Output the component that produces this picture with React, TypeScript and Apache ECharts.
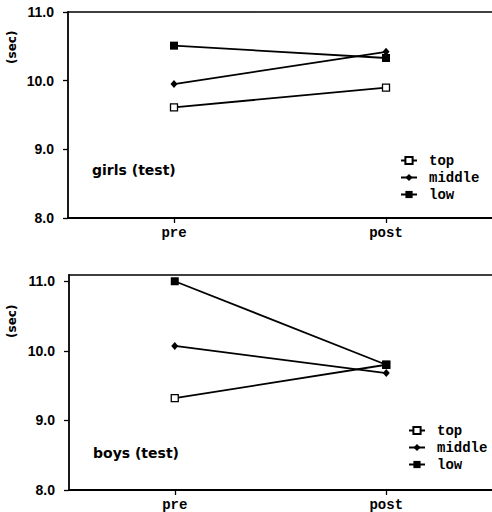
import React, { useEffect, useRef } from "react";
import * as echarts from "echarts";

const categories = ["pre", "post"];
const groups = ["top", "middle", "low"];
const girlsTop = [9.61, 9.9];
const girlsMiddle = [9.95, 10.42];
const girlsLow = [10.51, 10.33];
const boysTop = [9.32, 9.8];
const boysMiddle = [10.07, 9.68];
const boysLow = [11.0, 9.8];
const yTicks = [8, 9, 10, 11];
const panelTitles = ["girls (test)", "boys (test)"];
const yName = "(sec)";

const symbolFor: Record<string, any> = {
  top: { symbol: "rect", symbolSize: 7, itemStyle: { color: "#fff", borderColor: "#000", borderWidth: 1.3 } },
  middle: { symbol: "diamond", symbolSize: [7, 8], itemStyle: { color: "#000" } },
  low: { symbol: "rect", symbolSize: 8, itemStyle: { color: "#000" } },
};

export default function App() {
  const ref = useRef<HTMLDivElement>(null);
  useEffect(() => {
    document.body.style.margin = "0";
    const chart = echarts.init(ref.current!, null, { renderer: "svg" });
    const mkSeries = (name: string, data: number[], idx: number) => ({
      type: "line",
      name,
      data,
      xAxisIndex: idx,
      yAxisIndex: idx,
      lineStyle: { color: "#000", width: 1.8 },
      showSymbol: true,
      ...symbolFor[name],
      z: 3,
    });
    const xAxisBase = (gridIndex: number) => ({
      type: "category",
      gridIndex,
      data: categories,
      boundaryGap: true,
      axisLine: { lineStyle: { color: "#000", width: 1.8 } },
      axisTick: { show: true, alignWithLabel: true, length: 5, lineStyle: { color: "#000", width: 1.3 } },
      axisLabel: {
        color: "#000",
        fontFamily: "Liberation Mono",
        fontWeight: "bold",
        fontSize: 14,
        margin: 8,
      },
      splitLine: { show: false },
    });
    const topBorder = (gridIndex: number) => ({
      type: "category",
      gridIndex,
      position: "top",
      data: categories,
      axisLine: { lineStyle: { color: "#000", width: 1.6 } },
      axisTick: { show: false },
      axisLabel: { show: false },
      splitLine: { show: false },
    });
    const yAxisBase = (gridIndex: number, max: number) => ({
      type: "value",
      gridIndex,
      min: 8,
      max,
      axisLine: { show: true, lineStyle: { color: "#000", width: 1.8 } },
      axisTick: { show: true, length: 5, customValues: yTicks, lineStyle: { color: "#000", width: 1.3 } },
      axisLabel: {
        customValues: yTicks,
        color: "#000",
        fontFamily: "Liberation Sans",
        fontWeight: "bold",
        fontSize: 14,
        margin: 14,
        formatter: (v: number) => v.toFixed(1),
      },
      splitLine: { show: false },
    });
    const legendBase = (left: number, top: number) => ({
      orient: "vertical",
      left,
      top,
      data: groups,
      itemWidth: 16,
      itemHeight: 9,
      itemGap: 0,
      selectedMode: false,
      lineStyle: { color: "#000", width: 2 },
      textStyle: {
        color: "#000",
        fontFamily: "Liberation Mono",
        fontWeight: "bold",
        fontSize: 14,
        lineHeight: 17,
        padding: [0, 0, 0, 7],
      },
    });
    chart.setOption({
      animation: false,
      backgroundColor: "#fff",
      grid: [
        { left: 68, right: -4, top: 12, bottom: 294, show: false },
        { left: 69, right: -8, top: 275, bottom: 22, show: false },
      ],
      xAxis: [xAxisBase(0), xAxisBase(1), topBorder(0), topBorder(1)],
      yAxis: [yAxisBase(0, 11), yAxisBase(1, 11.09)],
      legend: [legendBase(395, 147), legendBase(403, 417)],
      graphic: [
        {
          type: "text",
          x: 6,
          y: 64,
          rotation: Math.PI / 2,
          style: { text: yName, fill: "#000", font: "bold 12px 'DejaVu Sans'" },
        },
        {
          type: "text",
          x: 6,
          y: 338,
          rotation: Math.PI / 2,
          style: { text: yName, fill: "#000", font: "bold 12px 'DejaVu Sans'" },
        },
        {
          type: "text",
          x: 92,
          y: 163,
          style: { text: panelTitles[0], fill: "#000", font: "bold 14px 'DejaVu Sans'" },
        },
        {
          type: "text",
          x: 93,
          y: 446,
          style: { text: panelTitles[1], fill: "#000", font: "bold 14px 'DejaVu Sans'" },
        },
      ],
      series: [
        mkSeries("top", girlsTop, 0),
        mkSeries("middle", girlsMiddle, 0),
        mkSeries("low", girlsLow, 0),
        mkSeries("top", boysTop, 1),
        mkSeries("middle", boysMiddle, 1),
        mkSeries("low", boysLow, 1),
      ],
    });
    return () => chart.dispose();
  }, []);
  return <div ref={ref} style={{ width: 492, height: 512 }} />;
}
